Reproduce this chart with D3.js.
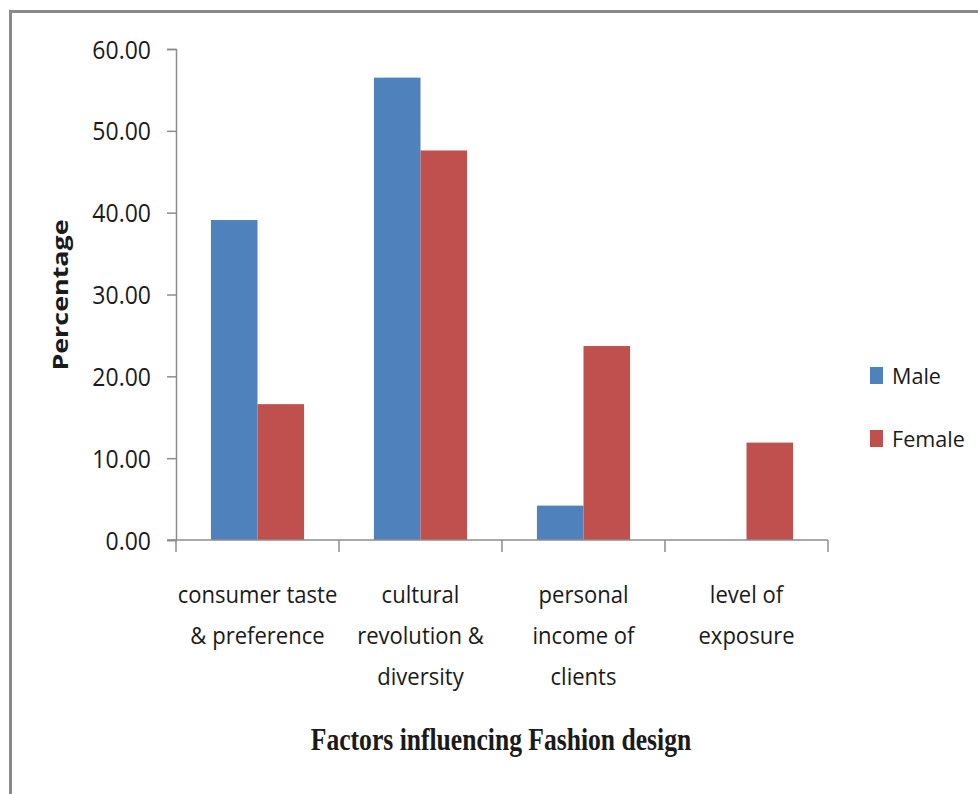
<!DOCTYPE html>
<html>
<head>
<meta charset="utf-8">
<script src="https://cdn.jsdelivr.net/npm/d3@7"></script>
<style>
  body { margin: 0; background: #fff; }
  svg text { font-family: "Open Sans", "Noto Sans", sans-serif; fill: #1a1a1a; }
</style>
</head>
<body>
<svg id="chart" width="978" height="794"></svg>
<script>
// Factors influencing fashion design, share of respondents by gender (%)
const categories = ["consumer taste & preference", "cultural revolution & diversity", "personal income of clients", "level of exposure"];
const categoryLines = [
  ["consumer taste", "& preference"],
  ["cultural", "revolution &", "diversity"],
  ["personal", "income of", "clients"],
  ["level of", "exposure"]
];
const seriesNames = ["Male", "Female"];
const maleValues = [39.1, 56.5, 4.2, 0.0];
const femaleValues = [16.6, 47.6, 23.7, 11.9];
const yTicks = [0, 10, 20, 30, 40, 50, 60];
const colors = ["#4F81BD", "#C0504D"];

const svg = d3.select("#chart");

// outer chart frame
svg.append("rect")
  .attr("x", 10.5).attr("y", 11.5)
  .attr("width", 990).attr("height", 800)
  .attr("fill", "none").attr("stroke", "#8a8a8a").attr("stroke-width", 3);

const plot = { left: 176, right: 828, top: 49, bottom: 540 };

const x0 = d3.scaleBand().domain(categories).range([plot.left, plot.right]).paddingInner(0).paddingOuter(0);
const x1 = d3.scaleBand().domain(seriesNames).range([0, x0.bandwidth()]).paddingInner(0).paddingOuter(0.75);
const y = d3.scaleLinear().domain([0, 60]).range([plot.bottom, plot.top]);
const color = d3.scaleOrdinal().domain(seriesNames).range(colors);

const rows = categories.map((c, i) => ({ cat: c, values: [
  { key: "Male", value: maleValues[i] },
  { key: "Female", value: femaleValues[i] }
]}));

// bars
const groups = svg.append("g").selectAll("g").data(rows).join("g")
  .attr("transform", d => `translate(${x0(d.cat)},0)`);
groups.selectAll("rect").data(d => d.values.filter(v => v.value > 0)).join("rect")
  .attr("x", d => x1(d.key))
  .attr("width", x1.bandwidth())
  .attr("y", d => y(d.value))
  .attr("height", d => y(0) - y(d.value))
  .attr("fill", d => color(d.key));

// y axis
const yAxis = svg.append("g")
  .attr("transform", `translate(${plot.left},0)`)
  .call(d3.axisLeft(y).tickValues(yTicks).tickFormat(d3.format(".2f")).tickSize(9).tickPadding(0));
yAxis.select(".domain").attr("stroke", "#8c8c8c").attr("stroke-width", 1.5);
yAxis.selectAll(".tick line").attr("stroke", "#8c8c8c").attr("stroke-width", 1.5);
yAxis.selectAll(".tick text")
  .attr("x", null).attr("dy", "0.36em")
  .attr("transform", "translate(-25,0) scale(0.92,1)")
  .style("font-size", "25px").attr("fill", "#1a1a1a");

// x axis with boundary ticks between categories
const xAxis = svg.append("g").attr("transform", `translate(0,${plot.bottom})`);
xAxis.append("line")
  .attr("x1", plot.left - 9).attr("x2", plot.right)
  .attr("stroke", "#8c8c8c").attr("stroke-width", 1.5);
const bounds = categories.map(c => x0(c)).concat([x0.range()[1]]);
xAxis.selectAll("line.bound").data(bounds).join("line")
  .attr("class", "bound")
  .attr("x1", d => d).attr("x2", d => d)
  .attr("y1", 0).attr("y2", 12)
  .attr("stroke", "#8c8c8c").attr("stroke-width", 1.5);

// category labels
const labels = svg.append("g").selectAll("g").data(categories).join("g")
  .attr("transform", (d) => `translate(${x0(d) + x0.bandwidth() / 2},603) scale(0.9,1)`);
labels.each(function(d, i) {
  d3.select(this).selectAll("text").data(categoryLines[i]).join("text")
    .attr("text-anchor", "middle")
    .attr("y", (t, j) => j * 41)
    .style("font-size", "24.5px")
    .text(t => t);
});

// axis titles
svg.append("text")
  .attr("transform", "translate(68,295) rotate(-90) scale(1.28,1)")
  .attr("text-anchor", "middle")
  .style("font-size", "21px").style("font-weight", "bold")
  .text("Percentage");

svg.append("text")
  .attr("transform", "translate(501,750) scale(0.8,1)")
  .attr("text-anchor", "middle")
  .style("font-family", "'Liberation Serif', 'Times New Roman', serif")
  .style("font-size", "32px").style("font-weight", "bold").attr("fill", "#000")
  .text("Factors influencing Fashion design");

// legend
const legend = svg.append("g").selectAll("g").data(seriesNames).join("g")
  .attr("transform", (d, i) => `translate(870,${367 + i * 63})`);
legend.append("rect").attr("width", 13).attr("height", 17).attr("fill", d => color(d));
legend.append("text")
  .attr("transform", "translate(22,17) scale(0.96,1)")
  .style("font-size", "22.5px")
  .text(d => d);
</script>
</body>
</html>
